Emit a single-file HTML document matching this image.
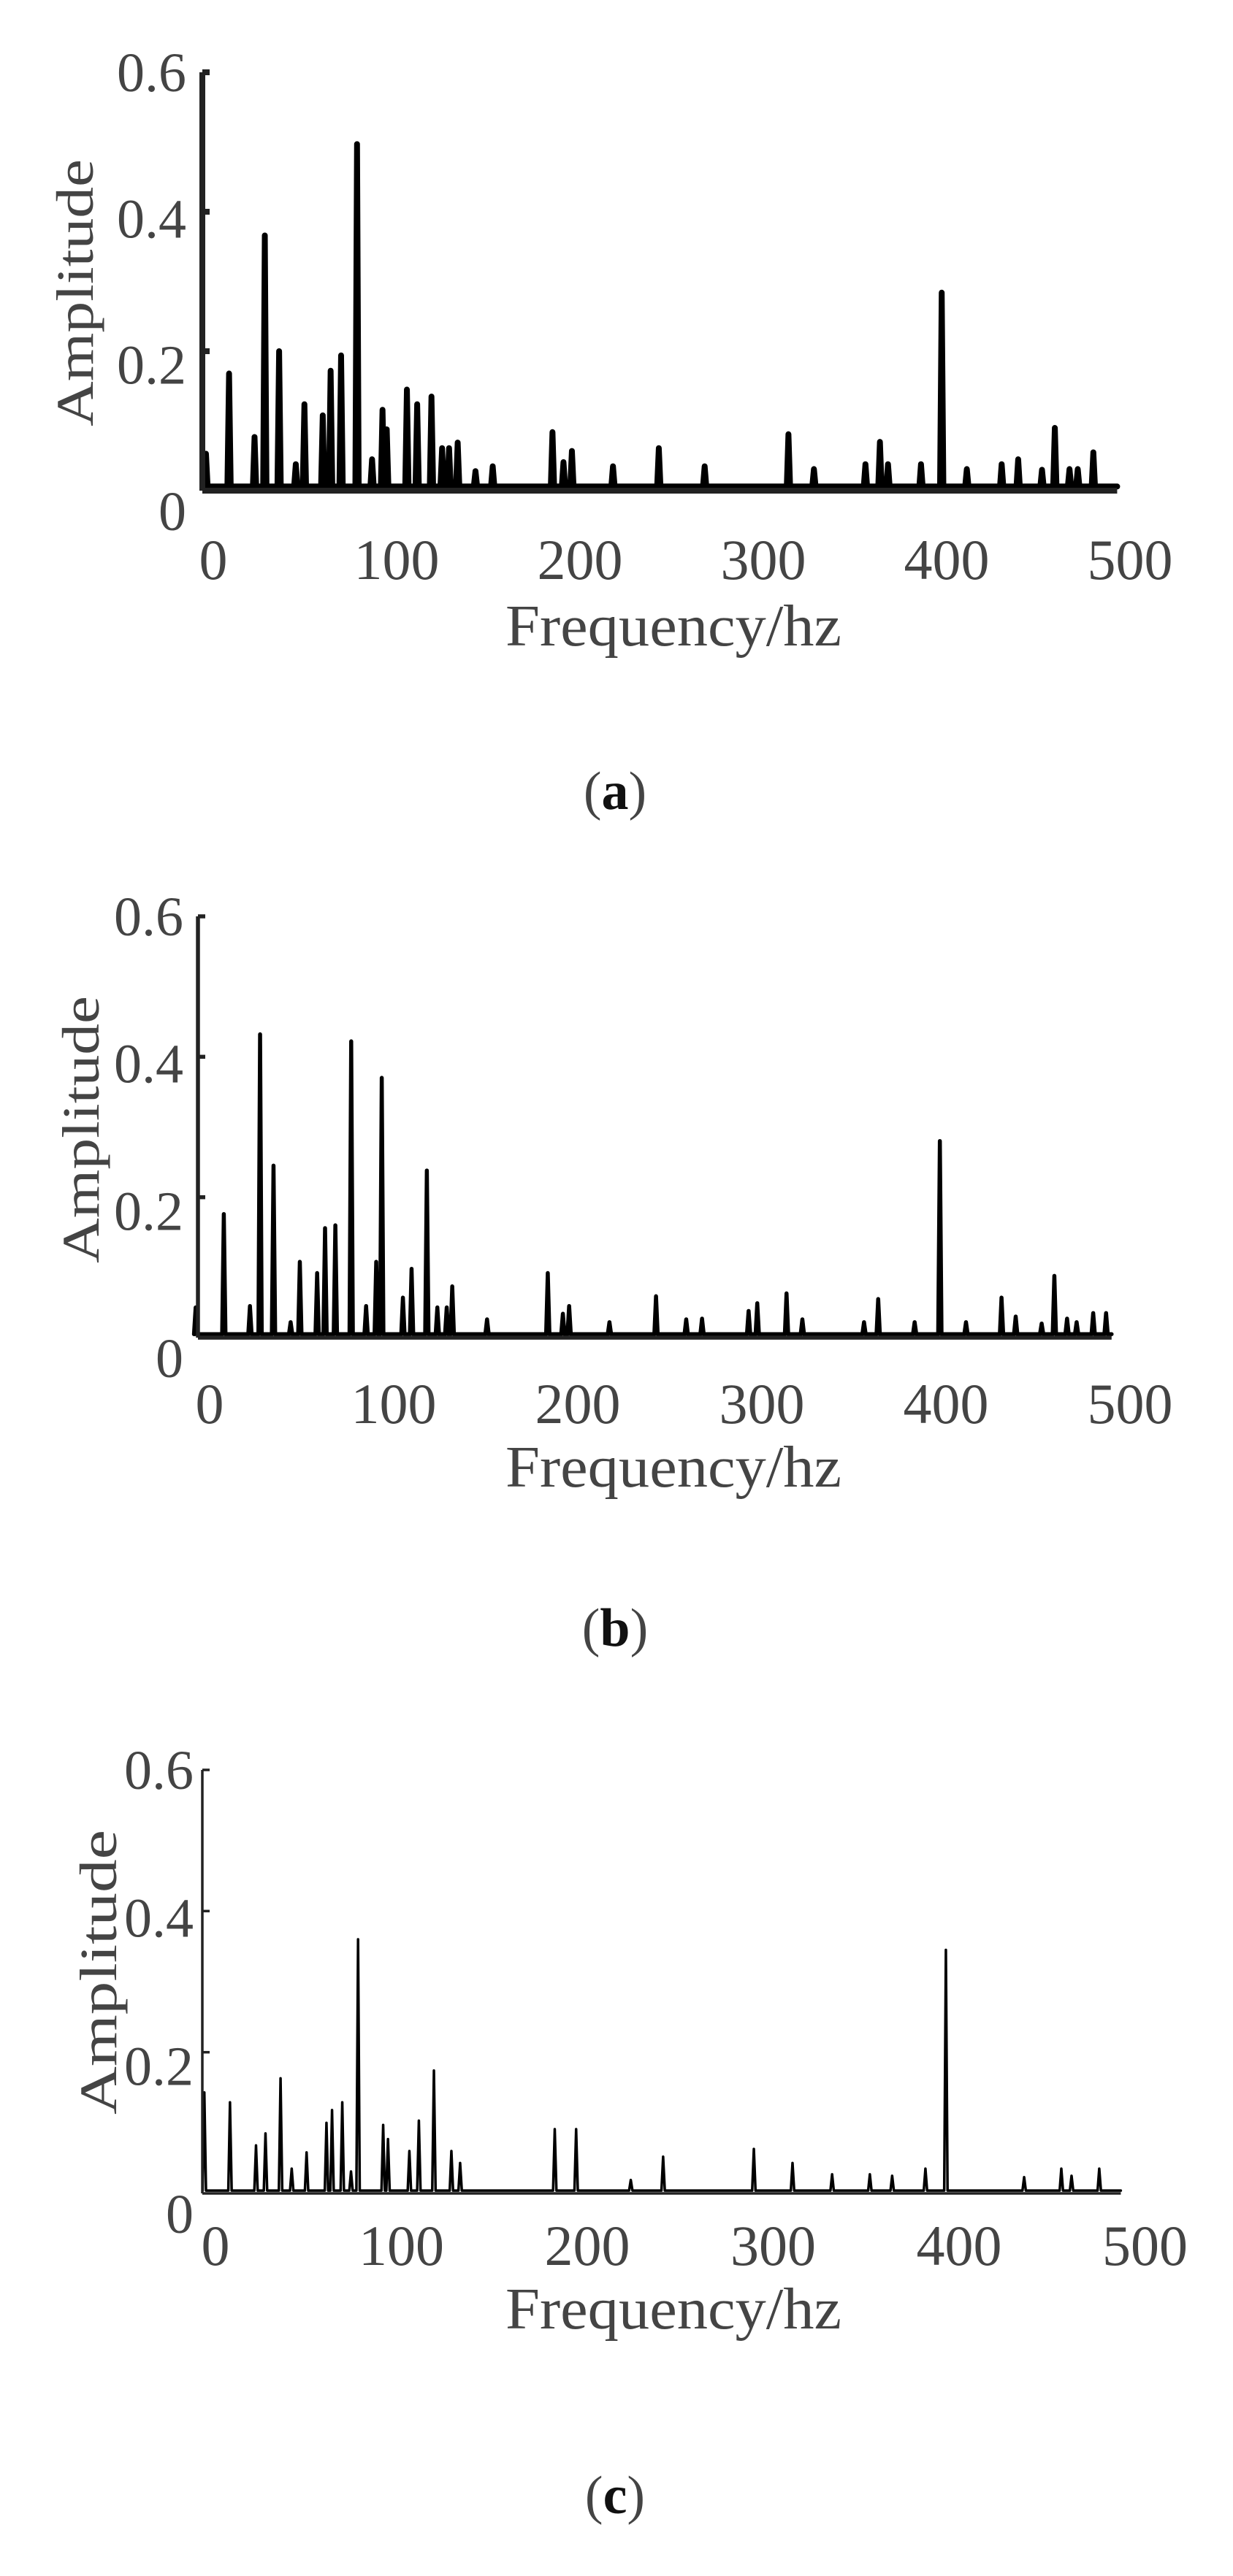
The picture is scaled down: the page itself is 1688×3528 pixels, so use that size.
<!DOCTYPE html>
<html><head><meta charset="utf-8"><style>
html,body{margin:0;padding:0;background:#fff;}
svg{display:block;}
text{font-family:"Liberation Serif",serif;fill:#444;}
</style></head><body>
<svg id="fig" width="1688" height="3528" viewBox="0 0 1688 3528" xmlns="http://www.w3.org/2000/svg"></svg>
<script>
// Panel (a) data
const freqsA=[-4,8.6,22.5,28.1,35.9,45,49.7,59.7,64,69.7,78.4,86.6,92.3,94.6,105.6,111.2,119,124.8,128.6,133.3,143,152.4,185,191,195.6,218,243,268,313.7,327.6,355.7,363.6,368,386,397.3,411,430,439,452,459,467,471.5,480];
const ampsA=[0.053,0.168,0.077,0.366,0.2,0.038,0.124,0.108,0.172,0.194,0.497,0.045,0.116,0.088,0.145,0.124,0.135,0.061,0.061,0.069,0.028,0.035,0.084,0.041,0.057,0.035,0.061,0.035,0.081,0.031,0.038,0.070,0.038,0.038,0.284,0.031,0.038,0.045,0.03,0.09,0.031,0.031,0.055];
// Panel (b) data
const freqsB=[-7.6,7.7,21.9,27.4,34.7,44,49,58.4,62.7,68.3,76.9,85,90.5,93.5,105,109.7,118,123.7,128.8,131.8,150.7,183.7,191.9,195.3,217.2,242.5,258.9,267.5,292.8,297.5,313.4,322,355.5,363.2,383,396.7,410.9,430.2,437.9,452,458.9,465.8,471,480,487];
const ampsB=[0.043,0.176,0.045,0.432,0.245,0.022,0.108,0.092,0.156,0.16,0.422,0.045,0.108,0.37,0.057,0.098,0.238,0.043,0.043,0.073,0.026,0.092,0.034,0.045,0.022,0.059,0.026,0.027,0.038,0.049,0.063,0.026,0.022,0.055,0.022,0.28,0.022,0.057,0.03,0.02,0.088,0.027,0.022,0.035,0.035];
// Panel (c) data
const freqsC=[-6,7.8,21.8,26.9,35,41,49,59.7,62.7,68.2,72.9,76.7,90.2,92.8,104.3,109.4,117.5,126.9,131.6,182.5,194,223.4,240.8,289.6,310.4,331.7,352,364,381.9,392.9,435,455,460.5,475.4];
const ampsC=[0.143,0.129,0.068,0.085,0.163,0.035,0.058,0.1,0.118,0.129,0.031,0.36,0.097,0.077,0.06,0.103,0.174,0.06,0.043,0.091,0.091,0.019,0.052,0.063,0.043,0.027,0.027,0.025,0.035,0.345,0.023,0.035,0.025,0.035];
const xTicks=[0,100,200,300,400,500];
const yTicks=[0,0.2,0.4,0.6];
const yTickLabels=["0","0.2","0.4","0.6"];

const NS="http://www.w3.org/2000/svg";
const svg=document.getElementById('fig');
function mk(tag,attrs,parent){const e=document.createElementNS(NS,tag);for(const k in attrs)e.setAttribute(k,attrs[k]);(parent||svg).appendChild(e);return e;}

const panels=[
 {id:'a',f:freqsA,a:ampsA,axisX:277,x0:292,pxHz:2.51,yZero:672,yTop:99,lw:8,base:0.006,fEnd:493,fStart:-5,tickY:793,titleY:884,ampX:103,ampY:401,ampLen:366,capY:1108,capX:842,tf:76,gap:22},
 {id:'b',f:freqsB,a:ampsB,axisX:271,x0:287,pxHz:2.52,yZero:1832,yTop:1255,lw:5.5,base:0.005,fEnd:490,fStart:-8,tickY:1949,titleY:2036,ampX:111,ampY:1547,ampLen:366,capY:2254,capX:842,tf:76,gap:20},
 {id:'c',f:freqsC,a:ampsC,axisX:277,x0:295,pxHz:2.545,yZero:3004,yTop:2424,lw:3.5,base:0.004,fEnd:487,fStart:-7,tickY:3102,titleY:3189,ampX:135,ampY:2701,ampLen:390,capY:3442,capX:842,tf:76,gap:12}
];

panels.forEach(p=>{
  const g=mk('g',{});
  
  
  const X=f=>p.x0+f*p.pxHz;
  const Y=v=>p.yZero-(v/0.6)*(p.yZero-p.yTop);
  let d='M'+X(p.fStart)+','+Y(p.base);
  const w=0.9;
  for(let i=0;i<p.f.length;i++){
    d+=' L'+X(p.f[i]-w)+','+Y(p.base)+' L'+X(p.f[i])+','+Y(p.a[i])+' L'+X(p.f[i]+w)+','+Y(p.base);
  }
  d+=' L'+X(p.fEnd)+','+Y(p.base);
  const path=mk('path',{d:d,fill:'none',stroke:'#000','stroke-width':p.lw,'stroke-linejoin':'round','stroke-linecap':'round'},g);
  
  
  const ya=mk('line',{x1:p.axisX,y1:p.yTop,x2:p.axisX,y2:p.yZero,stroke:'#222','stroke-width':p.lw},g);
  
  
  const xa=mk('line',{x1:p.axisX,y1:p.yZero,x2:X(p.fEnd),y2:p.yZero,stroke:'#222','stroke-width':p.lw},g);
  
  
  yTicks.forEach((v,i)=>{
    if(v>0){const tk=mk('line',{x1:p.axisX,y1:Y(v),x2:p.axisX+10,y2:Y(v),stroke:'#222','stroke-width':p.lw},g);
      
      }
    const t=mk('text',{x:p.axisX-p.gap,y:Y(v)+26+(1-v/0.6)*28,'text-anchor':'end','font-size':p.tf},g);
    t.textContent=yTickLabels[i];
    
    
  });
  xTicks.forEach(v=>{
    const t=mk('text',{x:X(v),y:p.tickY,'text-anchor':'middle','font-size':78},g);
    t.textContent=String(v);
    
    
  });
  const xt=mk('text',{x:922,y:p.titleY,'text-anchor':'middle','font-size':80,textLength:460,lengthAdjust:'spacingAndGlyphs'},g);
  xt.textContent='Frequency/hz';
  
  
  const yt=mk('text',{x:0,y:0,'text-anchor':'middle','font-size':72,textLength:p.ampLen,lengthAdjust:'spacingAndGlyphs',transform:'translate('+(p.ampX+24)+','+p.ampY+') rotate(-90)'},g);
  yt.textContent='Amplitude';
  
  
  const cap=mk('text',{x:p.capX,y:p.capY,'text-anchor':'middle','font-size':74},g);
  cap.innerHTML='(<tspan font-weight="bold" fill="#111">'+p.id+'</tspan>)';
  
  
});
</script>
</body></html>
